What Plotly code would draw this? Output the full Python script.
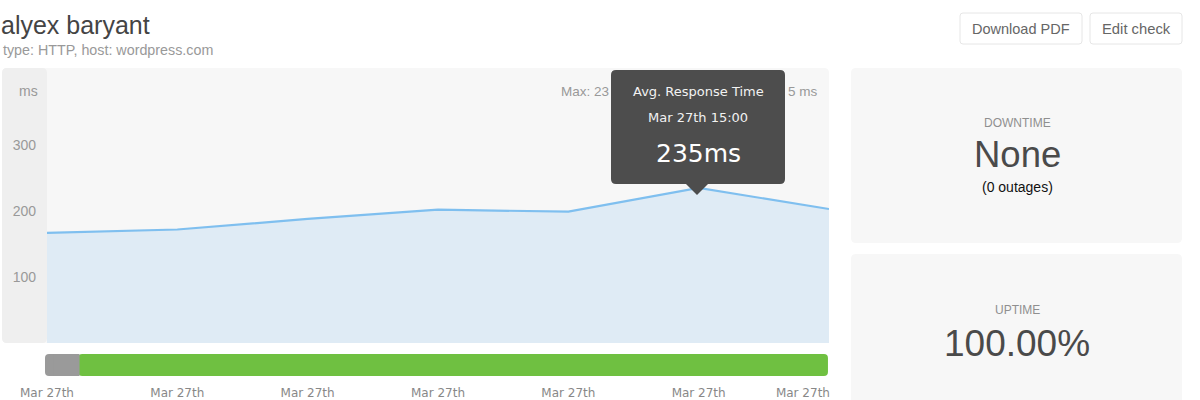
import plotly.graph_objects as go

# Data
hours = [10, 11, 12, 13, 14, 15, 16]
response_ms = [167, 172, 188, 202, 199, 235, 203]
y_ticks = [100, 200, 300]
nav_ticks = [10, 11, 12, 13, 14, 15, 15.8]
nav_tick_labels = ["Mar 27th"] * 7
nav_names = ["up", "gap start", "gap"]
nav_base = [10.24, 9.985, 10.05]
nav_length = [5.752, 0.115, 0.2]
nav_colors = ["#6fc041", "#9a9a9a", "#9a9a9a"]
nav_radius = [4, 4, 0]

W, H = 1200, 400
SANS = "Liberation Sans"
DEJA = "DejaVu Sans"


def px(x):
    return x / W


def py(y):
    return 1 - y / H


def rrect(x0, y0, x1, y1, r=5, fill="#f7f7f7", line="rgba(0,0,0,0)", layer="below"):
    p = (f"M {px(x0+r)} {py(y0)} L {px(x1-r)} {py(y0)} Q {px(x1)} {py(y0)} {px(x1)} {py(y0+r)} "
         f"L {px(x1)} {py(y1-r)} Q {px(x1)} {py(y1)} {px(x1-r)} {py(y1)} "
         f"L {px(x0+r)} {py(y1)} Q {px(x0)} {py(y1)} {px(x0)} {py(y1-r)} "
         f"L {px(x0)} {py(y0+r)} Q {px(x0)} {py(y0)} {px(x0+r)} {py(y0)} Z")
    return dict(type="path", path=p, xref="paper", yref="paper", fillcolor=fill,
                line=dict(color=line, width=1), layer=layer)


def label(text, x, y, size, color, anchor="center", family=SANS):
    return dict(text=text, x=px(x), y=py(y), xref="paper", yref="paper", xanchor=anchor,
                yanchor="middle", showarrow=False, font=dict(family=family, size=size, color=color))


fig = go.Figure()
fig.add_trace(go.Scatter(x=hours, y=response_ms, mode="lines", fill="tozeroy",
                         fillcolor="#dfebf5", line=dict(color="#7fbfef", width=2.2),
                         xaxis="x", yaxis="y", hoverinfo="skip", showlegend=False))
for n, b, l, c, r in zip(nav_names, nav_base, nav_length, nav_colors, nav_radius):
    fig.add_trace(go.Bar(y=[0], x=[l], base=[b], orientation="h", name=n, width=1,
                         marker=dict(color=c, line=dict(width=0), cornerradius=r),
                         xaxis="x2", yaxis="y2", hoverinfo="skip", showlegend=False))

tail = (f"M {px(686)} {py(184)} L {px(697)} {py(195)} L {px(708)} {py(184)} Z")
shapes = [
    rrect(2, 68, 829, 343),
    rrect(2, 68, 47, 343, fill="#efefef"),
    rrect(851, 68, 1182, 243),
    rrect(851, 254, 1182, 430),
    rrect(960, 13, 1082, 44, r=3, fill="#ffffff", line="#e6e6e6"),
    rrect(1090, 13, 1182, 44, r=3, fill="#ffffff", line="#e6e6e6"),
    rrect(611, 70, 785, 184, r=5, fill="#4d4d4d", layer="above"),
    dict(type="path", path=tail, xref="paper", yref="paper", fillcolor="#4d4d4d",
         line=dict(width=0), layer="above"),
]

annotations = [
    label("alyex baryant", -1, 25, 25, "#444444", "left"),
    label("type: HTTP, host: wordpress.com", 1, 50, 14.3, "#999999", "left"),
    label("Download PDF", 1021, 29, 14.5, "#666666"),
    label("Edit check", 1136, 29, 14.8, "#666666"),
    label("ms", 28, 91, 14, "#999999"),
    label("Max: 23", 611, 91, 13.5, "#999999", "right"),
    label("5 ms", 820, 91, 13.5, "#999999", "right"),
    label("DOWNTIME", 1017, 123, 12, "#8f8f8f"),
    label("None", 1017, 155, 36.5, "#4a4a4a"),
    label("(0 outages)", 1017, 187, 14, "#111111"),
    label("UPTIME", 1017, 310, 12, "#8f8f8f"),
    label("100.00%", 1017, 343, 37, "#4a4a4a"),
    label("Avg. Response Time", 698, 91, 13, "#f2f2f2", family=DEJA),
    label("Mar 27th 15:00", 698, 117, 13, "#f2f2f2", family=DEJA),
    label("235ms", 698, 153, 25, "#ffffff", family=DEJA),
]

fig.update_layout(
    width=W, height=H, margin=dict(l=0, r=0, t=0, b=0, autoexpand=False), autosize=False,
    paper_bgcolor="#ffffff", plot_bgcolor="rgba(0,0,0,0)", barmode="overlay",
    shapes=shapes, annotations=annotations,
    xaxis=dict(domain=[px(47), px(829)], range=[10, 16], visible=False),
    yaxis=dict(domain=[py(343), py(68)], range=[0, 416.7], showgrid=False, zeroline=False,
               tickvals=y_ticks, ticks="", ticklabelstandoff=10, showline=False,
               tickfont=dict(family=SANS, size=14, color="#999999")),
    xaxis2=dict(domain=[px(45), px(829)], range=[9.985, 16], anchor="y2", showgrid=False,
                zeroline=False, tickmode="array", tickvals=nav_ticks, ticktext=nav_tick_labels,
                ticks="", ticklabelstandoff=8,
                tickfont=dict(family=DEJA, size=12, color="#888888")),
    yaxis2=dict(domain=[py(376), py(354)], range=[-0.5, 0.5], visible=False),
)
fig.write_html("out.html", config={"displayModeBar": False},
               post_script="document.body.style.margin='0';")
